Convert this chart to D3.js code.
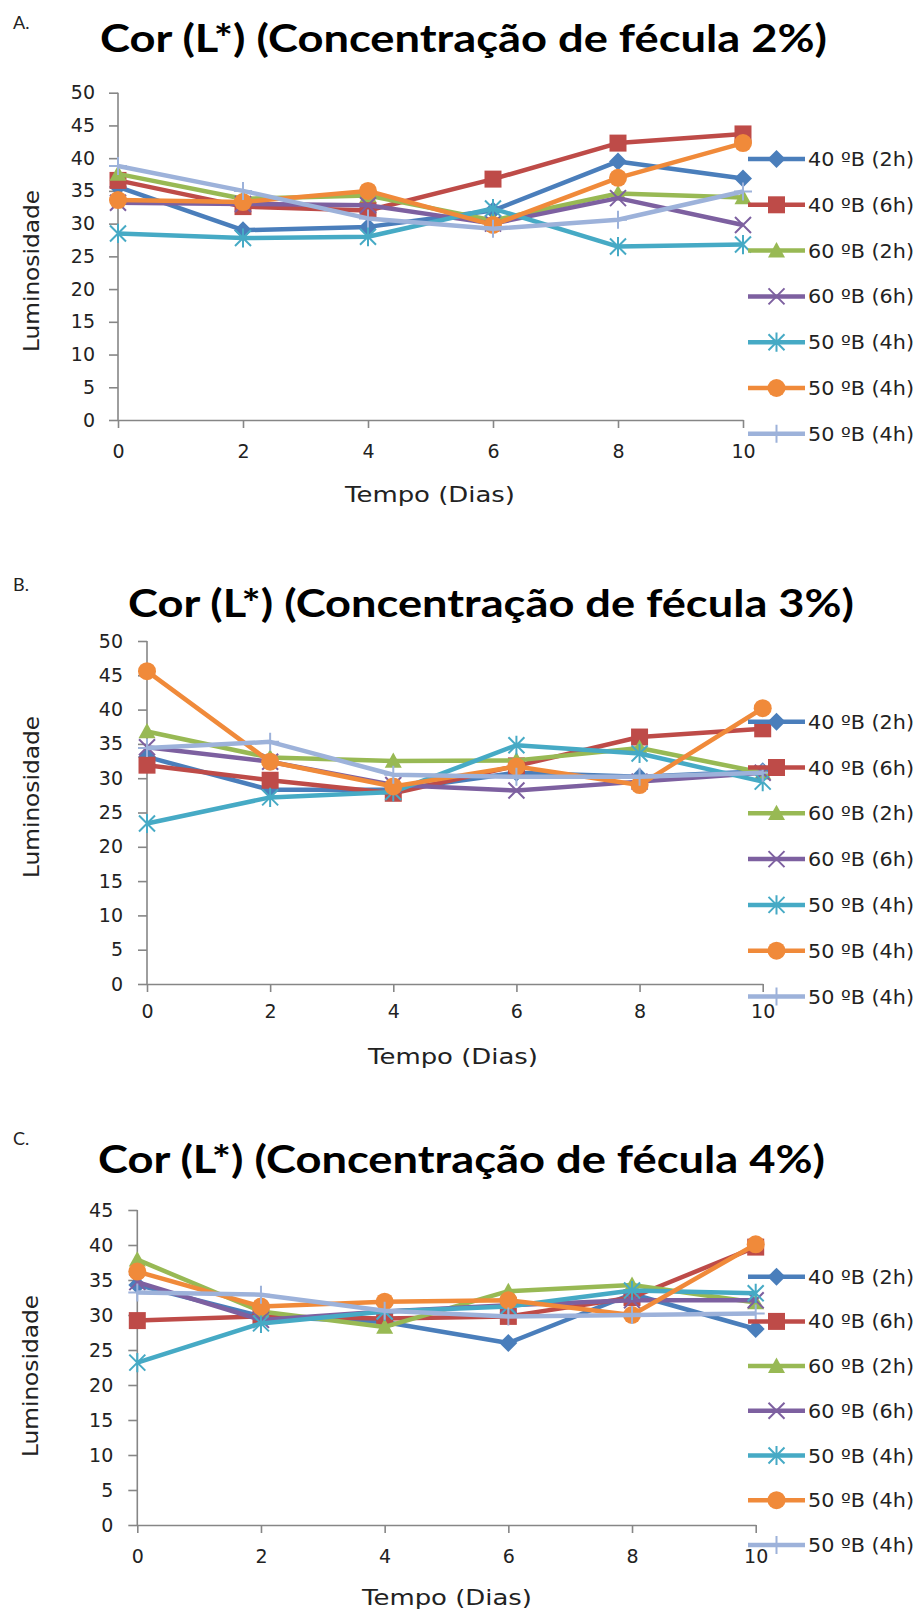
<!DOCTYPE html>
<html><head><meta charset="utf-8">
<script src="https://cdn.jsdelivr.net/npm/d3@7"></script>
<style>
html,body{margin:0;padding:0;background:#fff;}
svg{display:block;}
</style></head>
<body>
<script>
// ---------- DATA ----------
const days = [0, 2, 4, 6, 8, 10];
const seriesNames = ["40 ºB (2h)", "40 ºB (6h)", "60 ºB (2h)", "60 ºB (6h)", "50 ºB (4h)", "50 ºB (4h)", "50 ºB (4h)"];
const yTicksA = [0, 5, 10, 15, 20, 25, 30, 35, 40, 45, 50];
const yTicksB = [0, 5, 10, 15, 20, 25, 30, 35, 40, 45, 50];
const yTicksC = [0, 5, 10, 15, 20, 25, 30, 35, 40, 45];

// Panel A (fécula 2%)
const a_40B_2h = [35.6, 29.0, 29.5, 32.0, 39.5, 36.9];
const a_40B_6h = [36.6, 32.6, 32.0, 36.8, 42.3, 43.7];
const a_60B_2h = [37.6, 33.8, 34.3, 30.5, 34.6, 34.0];
const a_60B_6h = [33.2, 33.0, 32.8, 30.0, 33.9, 29.8];
const a_50B_4h_1 = [28.5, 27.8, 28.0, 32.3, 26.5, 26.8];
const a_50B_4h_2 = [33.6, 33.3, 35.0, 29.8, 37.0, 42.3];
const a_50B_4h_3 = [38.8, 35.0, 30.8, 29.2, 30.6, 34.9];

// Panel B (fécula 3%)
const b_40B_2h = [33.1, 28.3, 28.3, 30.8, 30.2, 31.0];
const b_40B_6h = [31.9, 29.7, 27.8, 31.8, 36.0, 37.2];
const b_60B_2h = [36.8, 33.0, 32.5, 32.6, 34.4, 30.8];
const b_60B_6h = [34.5, 32.4, 29.0, 28.2, 29.5, 30.8];
const b_50B_4h_1 = [23.4, 27.2, 28.0, 34.8, 33.6, 29.5];
const b_50B_4h_2 = [45.6, 32.4, 28.8, 31.7, 29.0, 40.2];
const b_50B_4h_3 = [34.4, 35.3, 30.5, 30.2, 30.2, 30.8];

// Panel C (fécula 4%)
const c_40B_2h = [34.3, 29.8, 29.0, 26.0, 33.0, 28.0];
const c_40B_6h = [29.2, 29.8, 29.5, 29.8, 32.5, 39.7];
const c_60B_2h = [37.9, 30.5, 28.3, 33.4, 34.3, 31.8];
const c_60B_6h = [34.7, 29.3, 30.5, 31.4, 32.1, 32.1];
const c_50B_4h_1 = [23.2, 28.8, 30.5, 31.2, 33.5, 33.1];
const c_50B_4h_2 = [36.2, 31.2, 31.9, 32.1, 30.0, 40.1];
const c_50B_4h_3 = [33.2, 32.9, 30.6, 29.8, 30.0, 30.2];

// ---------- STYLE ----------
const colors = ["#4A7EBB", "#BE4B48", "#98B954", "#7D60A0", "#46AAC5", "#F08A3A", "#9DB2DA"];
const markers = ["diamond", "square", "triangle", "x", "asterisk", "circle", "plus"];

const panels = [
  {letter: "A.", title: "Cor (L*) (Concentração de fécula 2%)", series: [a_40B_2h, a_40B_6h, a_60B_2h, a_60B_6h, a_50B_4h_1, a_50B_4h_2, a_50B_4h_3],
   yTicks: yTicksA, yMax: 50, x0: 118, x1: 743, yTop: 92.7, yBot: 420,
   letterY: 21.5, titleY: 37, titleX0: 100, titleX1: 827, lumX: 32, lumY: 271, tempoX: 430, tempoY: 495,
   legY0: 159, legDy: 45.8, xPad: 17, yPad: 14},
  {letter: "B.", title: "Cor (L*) (Concentração de fécula 3%)", series: [b_40B_2h, b_40B_6h, b_60B_2h, b_60B_6h, b_50B_4h_1, b_50B_4h_2, b_50B_4h_3],
   yTicks: yTicksB, yMax: 50, x0: 147, x1: 762.7, yTop: 641, yBot: 984,
   letterY: 584, titleY: 602, titleX0: 128, titleX1: 854, lumX: 32, lumY: 797, tempoX: 453, tempoY: 1057,
   legY0: 721.7, legDy: 45.8, xPad: 13, yPad: 15},
  {letter: "C.", title: "Cor (L*) (Concentração de fécula 4%)", series: [c_40B_2h, c_40B_6h, c_60B_2h, c_60B_6h, c_50B_4h_1, c_50B_4h_2, c_50B_4h_3],
   yTicks: yTicksC, yMax: 45, x0: 137.3, x1: 755.7, yTop: 1210, yBot: 1525,
   letterY: 1138, titleY: 1158, titleX0: 98, titleX1: 825, lumX: 31, lumY: 1376, tempoX: 447, tempoY: 1598,
   legY0: 1276.7, legDy: 44.7, xPad: 17, yPad: 15}
];

const svg = d3.select("body").append("svg").attr("width", 921).attr("height", 1611);

function markerPath(type, s) {
  const h = s / 2;
  switch (type) {
    case "diamond": return `M0,${-h}L${h},0L0,${h}L${-h},0Z`;
    case "square": return `M${-h},${-h}H${h}V${h}H${-h}Z`;
    case "triangle": return `M0,${-h}L${h},${h * 0.8}L${-h},${h * 0.8}Z`;
    case "x": return `M${-h},${-h}L${h},${h}M${-h},${h}L${h},${-h}`;
    case "asterisk": return `M${-h},${-h}L${h},${h}M${-h},${h}L${h},${-h}M0,${-h * 1.2}V${h * 1.2}`;
    case "plus": return `M${-h},0H${h}M0,${-h}V${h}`;
    case "circle": return d3.symbol(d3.symbolCircle, Math.PI * h * h)();
  }
}
const filled = {diamond: true, square: true, triangle: true, circle: true, x: false, asterisk: false, plus: false};
const mSize = {diamond: 18, square: 17, triangle: 17, x: 16, asterisk: 16, plus: 18, circle: 18};

function drawMarker(g, type, color, x, y) {
  const p = g.append("path").attr("d", markerPath(type, mSize[type])).attr("transform", `translate(${x},${y})`);
  if (filled[type]) p.attr("fill", color).attr("stroke", "none");
  else p.attr("fill", "none").attr("stroke", color).attr("stroke-width", 2);
}

panels.forEach(P => {
  const g = svg.append("g");
  const x = d3.scaleLinear().domain([0, 10]).range([P.x0, P.x1]);
  const y = d3.scaleLinear().domain([0, P.yMax]).range([P.yBot, P.yTop]);

  // letter & title
  g.append("text").attr("x", 13).attr("y", P.letterY).attr("dominant-baseline", "central")
    .attr("font-family", "Lato, 'Open Sans', sans-serif").attr("font-size", 18).attr("fill", "#222").text(P.letter);
  g.append("text").attr("x", P.titleX0).attr("y", P.titleY).attr("dominant-baseline", "central")
    .attr("font-family", "Lato, 'Open Sans', sans-serif").attr("font-weight", "bold").attr("font-size", 38)
    .attr("textLength", P.titleX1 - P.titleX0).attr("lengthAdjust", "spacingAndGlyphs")
    .attr("fill", "#000").text(P.title);

  // axes
  const ya = g.append("g").attr("transform", `translate(${P.x0},0)`)
    .call(d3.axisLeft(y).tickValues(P.yTicks).tickSize(9).tickSizeOuter(0).tickPadding(P.yPad));
  const xa = g.append("g").attr("transform", `translate(0,${P.yBot})`)
    .call(d3.axisBottom(x).tickValues(days).tickSize(8).tickSizeOuter(0).tickPadding(P.xPad));
  [ya, xa].forEach(a => {
    a.select(".domain").attr("stroke", "#868686").attr("stroke-width", 1.6);
    a.selectAll(".tick line").attr("stroke", "#868686").attr("stroke-width", 1.6);
    a.selectAll(".tick text").attr("font-family", "'DejaVu Sans', Verdana, sans-serif").attr("font-size", 19).attr("fill", "#222");
  });
  ya.select(".domain").attr("d", `M0,${P.yTop}V${P.yBot}`);

  // axis titles
  g.append("text").attr("transform", `translate(${P.lumX},${P.lumY}) rotate(-90)`)
    .attr("text-anchor", "middle").attr("dominant-baseline", "central")
    .attr("font-family", "'DejaVu Sans', Verdana, sans-serif").attr("font-size", 21).attr("fill", "#222")
    .attr("textLength", 162).attr("lengthAdjust", "spacingAndGlyphs").text("Luminosidade");
  g.append("text").attr("x", P.tempoX).attr("y", P.tempoY)
    .attr("text-anchor", "middle").attr("dominant-baseline", "central")
    .attr("font-family", "'DejaVu Sans', Verdana, sans-serif").attr("font-size", 21).attr("fill", "#222")
    .attr("textLength", 170).attr("lengthAdjust", "spacingAndGlyphs").text("Tempo (Dias)");

  // series
  const line = d3.line().x((d, i) => x(days[i])).y(d => y(d));
  P.series.forEach((vals, si) => {
    const sg = g.append("g");
    sg.append("path").datum(vals).attr("d", line).attr("fill", "none")
      .attr("stroke", colors[si]).attr("stroke-width", 4.5).attr("stroke-linejoin", "round");
    vals.forEach((v, i) => drawMarker(sg, markers[si], colors[si], x(days[i]), y(v)));
  });

  // legend
  seriesNames.forEach((name, si) => {
    const ly = P.legY0 + si * P.legDy;
    const lg = g.append("g");
    lg.append("line").attr("x1", 748).attr("x2", 805).attr("y1", ly).attr("y2", ly)
      .attr("stroke", colors[si]).attr("stroke-width", 4.5);
    drawMarker(lg, markers[si], colors[si], 776.5, ly);
    lg.append("text").attr("x", 808).attr("y", ly).attr("dominant-baseline", "central")
      .attr("font-family", "'DejaVu Sans', Verdana, sans-serif").attr("font-size", 19).attr("fill", "#222")
      .attr("textLength", 106).attr("lengthAdjust", "spacingAndGlyphs").text(name);
  });
});
</script>
</body></html>
